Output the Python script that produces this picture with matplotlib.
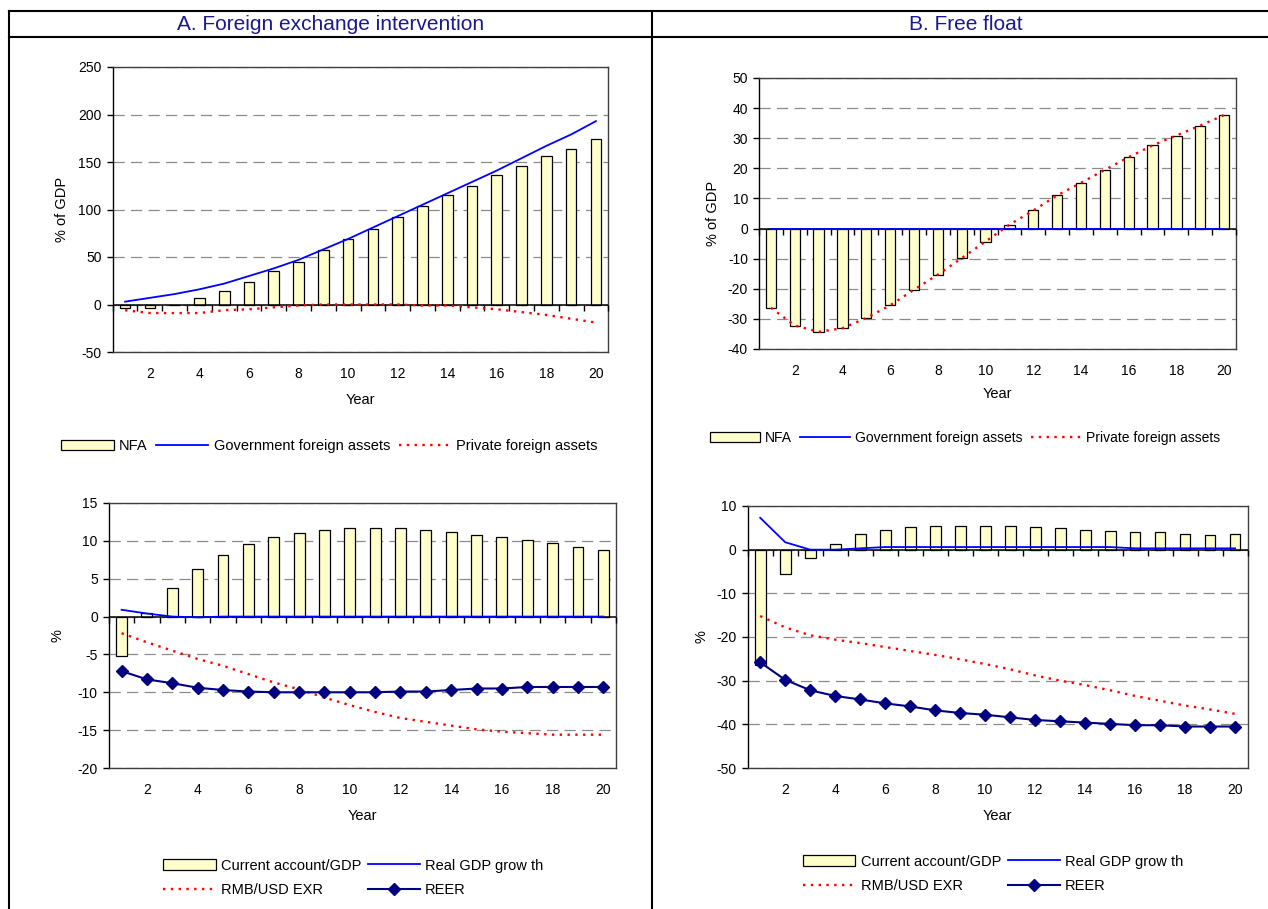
import numpy as np
import matplotlib
matplotlib.use("Agg")
import matplotlib.pyplot as plt
from matplotlib.lines import Line2D
from matplotlib.patches import Patch

plt.rcParams['font.family'] = ['Liberation Sans', 'DejaVu Sans']
plt.rcParams['axes.unicode_minus'] = False

# ---------------------------------------------------------------- data
years = list(range(1, 21))
year_ticks = [2, 4, 6, 8, 10, 12, 14, 16, 18, 20]

# A. Foreign exchange intervention: foreign assets (% of GDP)
a_nfa = [-4, -4, 0, 7, 14, 24, 35, 45, 57, 69, 80, 92, 104, 115, 125, 136, 146, 156, 164, 174]
a_gov = [3, 7, 11, 16, 22, 30, 38, 47, 58, 69, 81, 93, 105, 117, 129, 141, 154, 167, 179, 193]
a_priv = [-6, -9, -9, -9, -6, -5, -3, -1, 0, 0, 0, 0, -1, -1, -3, -5, -8, -11, -15, -19]

# A. Foreign exchange intervention: macro variables (%)
a_ca = [-5.2, 0.5, 3.8, 6.3, 8.1, 9.6, 10.5, 11.0, 11.4, 11.7, 11.7, 11.7, 11.4, 11.2, 10.8, 10.5, 10.1, 9.7, 9.2, 8.8]
a_gdp = [0.9, 0.4, 0.0, -0.1, 0.0, 0.0, 0.0, 0.0, 0.0, 0.0, 0.0, 0.0, 0.0, 0.0, 0.0, 0.0, 0.0, 0.0, 0.0, 0.0]
a_rmb = [-2.2, -3.4, -4.5, -5.6, -6.5, -7.6, -8.7, -9.6, -10.7, -11.7, -12.6, -13.4, -13.9, -14.4, -14.9, -15.2, -15.4, -15.6, -15.6, -15.6]
a_reer = [-7.2, -8.3, -8.8, -9.4, -9.7, -9.9, -10.0, -10.0, -10.0, -10.0, -10.0, -9.9, -9.9, -9.7, -9.5, -9.5, -9.3, -9.3, -9.3, -9.3]

# B. Free float: foreign assets (% of GDP)
b_nfa = [-26.3, -32.2, -34.3, -33.1, -29.7, -25.5, -20.3, -15.3, -9.8, -4.3, 1.3, 6.0, 11.0, 15.2, 19.5, 23.7, 27.6, 30.9, 34.2, 37.7]
b_gov = [0.0] * 20
b_priv = [-26.3, -32.2, -34.3, -33.1, -29.7, -25.5, -20.3, -15.3, -9.8, -4.3, 1.3, 6.0, 11.0, 15.2, 19.5, 23.7, 27.6, 30.9, 34.2, 37.7]

# B. Free float: macro variables (%)
b_ca = [-26.5, -5.5, -1.8, 1.3, 3.5, 4.6, 5.3, 5.5, 5.5, 5.5, 5.5, 5.2, 4.9, 4.6, 4.3, 4.0, 4.0, 3.7, 3.4, 3.5]
b_gdp = [7.3, 1.7, 0.0, 0.0, 0.3, 0.6, 0.6, 0.6, 0.6, 0.6, 0.6, 0.6, 0.6, 0.6, 0.6, 0.3, 0.3, 0.3, 0.3, 0.3]
b_rmb = [-15.2, -17.8, -19.6, -20.6, -21.4, -22.3, -23.2, -24.1, -25.1, -26.2, -27.4, -28.8, -30.0, -31.0, -32.2, -33.5, -34.6, -35.7, -36.6, -37.6]
b_reer = [-25.8, -29.8, -32.2, -33.5, -34.3, -35.2, -35.9, -36.8, -37.4, -37.8, -38.4, -39.0, -39.3, -39.6, -39.9, -40.2, -40.2, -40.5, -40.5, -40.5]

titles = ["A. Foreign exchange intervention", "B. Free float"]
asset_labels = ["NFA", "Government foreign assets", "Private foreign assets"]
macro_labels = ["Current account/GDP", "Real GDP grow th", "RMB/USD EXR", "REER"]

# ---------------------------------------------------------------- styles
BAR_FACE = "#FFFFCC"
BLUE = "#0000FF"
RED = "#FF0000"
NAVY = "#000080"
DOTTED = (0, (1, 2.3))
W, H = 1268, 909

fig = plt.figure(figsize=(W / 100, H / 100), dpi=100)


def px_axes(left, top, right, bottom):
    return fig.add_axes([left / W, 1 - bottom / H, (right - left) / W, (bottom - top) / H])


def base_axes(ax, ylim, ystep, ylabel, ylab_x, xlab_y):
    ax.set_xlim(0.5, len(years) + 0.5)
    ax.set_ylim(*ylim)
    ax.set_yticks(np.arange(ylim[0], ylim[1] + ystep / 2, ystep))
    ax.set_xticks(year_ticks)
    ax.tick_params(axis='x', length=0, pad=11, labelsize=10)
    ax.tick_params(axis='y', direction='out', length=4, width=1, pad=4, labelsize=10)
    for name, sp in ax.spines.items():
        sp.set_color('#404040')
        sp.set_linewidth(1.0)
    ax.spines['left'].set_color('black')
    ax.yaxis.grid(True, color='#8C8C8C', linestyle=(0, (9, 5)), linewidth=0.9)
    ax.set_axisbelow(True)
    ax.set_ylabel(ylabel, fontsize=10.5)
    ax.yaxis.set_label_coords(ylab_x, 0.5)
    ax.set_xlabel("Year", fontsize=10.5)
    ax.xaxis.set_label_coords(0.5, xlab_y)
    # category axis crossing at zero with tick marks between categories
    edges = np.arange(len(years) + 1) + 0.5
    ax.axhline(0, color='black', linewidth=1.1, zorder=2.6)
    ax.plot(edges, np.zeros_like(edges), linestyle='none', marker=3, markersize=4,
            markeredgewidth=1, color='black', zorder=2.6, clip_on=False)


def draw_bars(ax, values):
    ax.bar(years, values, width=0.43, color=BAR_FACE, edgecolor='black',
           linewidth=0.9, zorder=2)


def asset_panel(ax, nfa, gov, priv):
    draw_bars(ax, nfa)
    ax.plot(years, gov, color=BLUE, linewidth=1.3, zorder=3)
    ax.plot(years, priv, color=RED, linewidth=1.7, linestyle=DOTTED, zorder=3)


def macro_panel(ax, ca, gdp, rmb, reer):
    draw_bars(ax, ca)
    ax.plot(years, gdp, color=BLUE, linewidth=1.3, zorder=3)
    ax.plot(years, rmb, color=RED, linewidth=1.7, linestyle=DOTTED, zorder=3)
    ax.plot(years, reer, color=NAVY, linewidth=1.5, marker='D', markersize=6,
            zorder=4)


# ---------------------------------------------------------------- panels
ax_tl = px_axes(112.7, 67, 608.3, 352)
base_axes(ax_tl, (-50, 250), 50, "% of GDP", -0.089, -0.144)
asset_panel(ax_tl, a_nfa, a_gov, a_priv)

ax_tr = px_axes(759, 78, 1236, 349)
base_axes(ax_tr, (-40, 50), 10, "% of GDP", -0.082, -0.140)
asset_panel(ax_tr, b_nfa, b_gov, b_priv)

ax_bl = px_axes(108.9, 503, 616, 768)
base_axes(ax_bl, (-20, 15), 5, "%", -0.087, -0.155)
macro_panel(ax_bl, a_ca, a_gdp, a_rmb, a_reer)

ax_br = px_axes(747.7, 506, 1247.6, 768)
base_axes(ax_br, (-50, 10), 10, "%", -0.078, -0.156)
macro_panel(ax_br, b_ca, b_gdp, b_rmb, b_reer)

# ---------------------------------------------------------------- legends
bar_handle = Patch(facecolor=BAR_FACE, edgecolor='black', linewidth=0.9)
gov_handle = Line2D([], [], color=BLUE, linewidth=1.3)
priv_handle = Line2D([], [], color=RED, linewidth=1.7, linestyle=DOTTED)
reer_handle = Line2D([], [], color=NAVY, linewidth=1.5, marker='D', markersize=6)

legend_kw = dict(frameon=False, handletextpad=0.35,
                 borderpad=0, borderaxespad=0, loc='center left')

for x0, y0, fs in [(61, 446, 10.5), (710, 438, 10)]:
    fig.legend([bar_handle, gov_handle, priv_handle], asset_labels, ncol=3,
               fontsize=fs, handlelength=3.6, columnspacing=0.6,
               bbox_to_anchor=(x0 / W, 1 - y0 / H), **legend_kw)

for x0, y0 in [(163, 878), (803, 874)]:
    fig.legend([bar_handle, priv_handle, gov_handle, reer_handle],
               [macro_labels[0], macro_labels[2], macro_labels[1], macro_labels[3]],
               ncol=2, fontsize=10.5, handlelength=3.6, columnspacing=0.45,
               labelspacing=0.75, bbox_to_anchor=(x0 / W, 1 - y0 / H), **legend_kw)

# ---------------------------------------------------------------- table frame
frame_kw = dict(color='black', linewidth=1.5, transform=fig.transFigure)
fig.add_artist(Line2D([9 / W, 1], [1 - 11 / H, 1 - 11 / H], **frame_kw))
fig.add_artist(Line2D([9 / W, 1], [1 - 37 / H, 1 - 37 / H], **frame_kw))
fig.add_artist(Line2D([9 / W, 9 / W], [0, 1 - 11 / H], **frame_kw))
fig.add_artist(Line2D([652 / W, 652 / W], [0, 1 - 11 / H], **frame_kw))

fig.text(331 / W, 1 - 24.5 / H, titles[0], ha='center', va='center',
         fontsize=15, color='#1A1A8C')
fig.text(966 / W, 1 - 24.5 / H, titles[1], ha='center', va='center',
         fontsize=15, color='#1A1A8C')

fig.savefig("out.png", dpi=100, facecolor='white')
